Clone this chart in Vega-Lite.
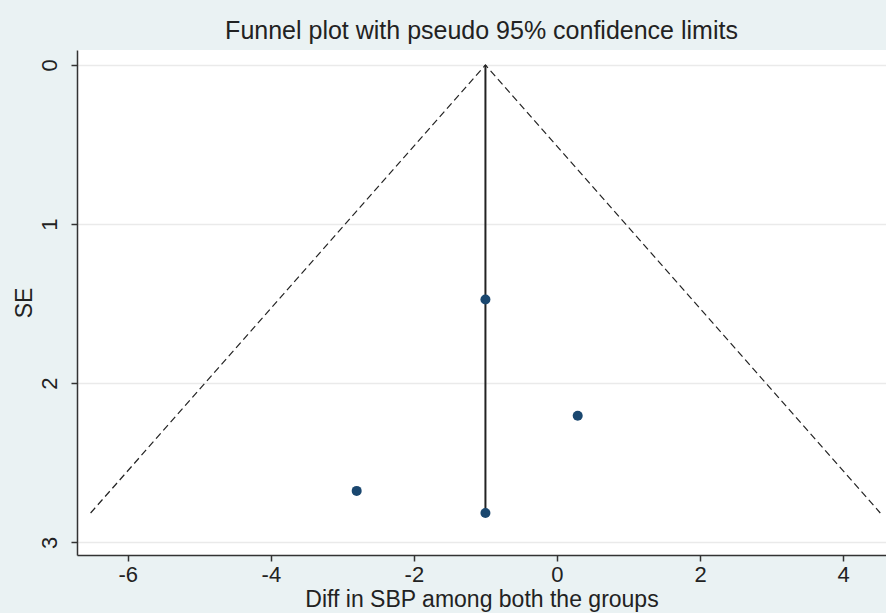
{
  "$schema": "https://vega.github.io/schema/vega-lite/v6.json",
  "width": 809,
  "height": 505,
  "autosize": {"type": "none"},
  "padding": {"left": 77, "top": 50, "right": 0, "bottom": 58},
  "background": "#eaf2f3",
  "title": {
    "text": "Funnel plot with pseudo 95% confidence limits",
    "font": "Liberation Sans",
    "fontSize": 25,
    "fontWeight": "normal",
    "color": "#222222",
    "anchor": "middle",
    "offset": 6
  },
  "config": {
    "view": {"fill": "white", "stroke": null},
    "axis": {
      "labelFont": "Liberation Sans",
      "titleFont": "Liberation Sans",
      "labelFontSize": 22,
      "titleFontSize": 23,
      "titleFontWeight": "normal",
      "labelColor": "#222222",
      "titleColor": "#222222",
      "domainColor": "#333333",
      "domainWidth": 1.5,
      "tickColor": "#333333",
      "tickWidth": 1.5,
      "tickSize": 6
    }
  },
  "datasets": {
    "studies": [
      {"diff": -1.0, "se": 1.474},
      {"diff": 0.29, "se": 2.205},
      {"diff": -2.8, "se": 2.677},
      {"diff": -1.0, "se": 2.816}
    ],
    "funnel": [
      {"diff": -6.52, "se": 2.816, "part": "limits"},
      {"diff": -1.0, "se": 0.0, "part": "limits"},
      {"diff": 4.52, "se": 2.816, "part": "limits"}
    ],
    "pooled": [
      {"diff": -1.0, "se": 0.0, "part": "pooled"},
      {"diff": -1.0, "se": 2.816, "part": "pooled"}
    ]
  },
  "layer": [
    {
      "data": {"name": "funnel"},
      "mark": {"type": "line", "color": "#222222", "strokeWidth": 1.2, "strokeDash": [7, 4], "clip": true},
      "encoding": {
        "x": {
          "field": "diff", "type": "quantitative",
          "scale": {"domain": [-6.71, 4.6], "nice": false, "zero": false},
          "axis": {
            "values": [-6, -4, -2, 0, 2, 4],
            "labelExpr": "datum.value + ''",
            "grid": false,
            "title": "Diff in SBP among both the groups",
            "labelPadding": 3,
            "titlePadding": 3
          }
        },
        "y": {
          "field": "se", "type": "quantitative",
          "scale": {"domain": [-0.094, 3.08], "nice": false, "zero": false, "reverse": true},
          "axis": {
            "values": [0, 1, 2, 3],
            "labelExpr": "datum.value + ''",
            "grid": true,
            "gridColor": "#eaeaea",
            "gridWidth": 1.5,
            "title": "SE",
            "labelAngle": -90,
            "labelPadding": 10,
            "titlePadding": 2
          }
        }
      }
    },
    {
      "data": {"name": "pooled"},
      "mark": {"type": "line", "color": "#222222", "strokeWidth": 2},
      "encoding": {
        "x": {"field": "diff", "type": "quantitative"},
        "y": {"field": "se", "type": "quantitative"}
      }
    },
    {
      "data": {"name": "studies"},
      "mark": {"type": "point", "filled": true, "shape": "circle", "color": "#1a476f", "opacity": 1, "size": 100},
      "encoding": {
        "x": {"field": "diff", "type": "quantitative"},
        "y": {"field": "se", "type": "quantitative"}
      }
    }
  ]
}
